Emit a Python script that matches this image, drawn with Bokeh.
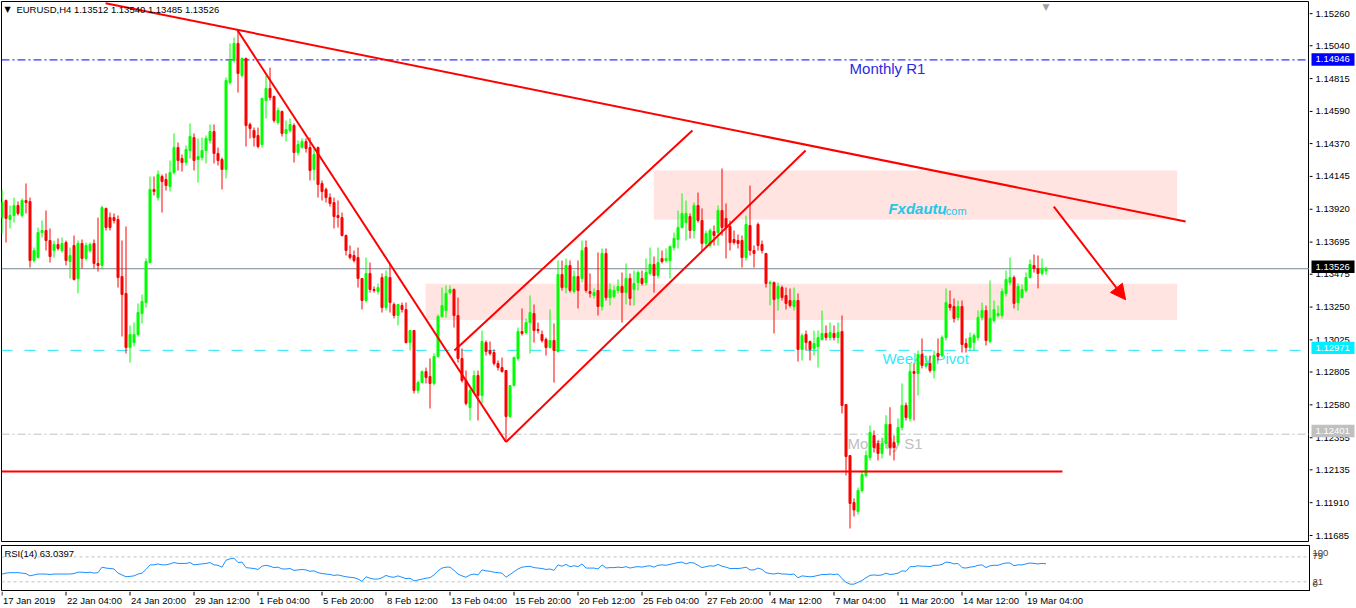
from bokeh.plotting import figure
from bokeh.layouts import column, row
from bokeh.models import (ColumnDataSource, Range1d, FixedTicker, Span, Label,
                          Arrow, NormalHead, CustomJSTickFormatter)
from bokeh.core.properties import value
from bokeh.embed import file_html
from bokeh.resources import INLINE

# ---------------- data (EURUSD H4) ----------------
opens = [1.13874, 1.13990, 1.13861, 1.13888, 1.13956, 1.13888, 1.13990, 1.13983, 1.13582, 1.13602,
         1.13772, 1.13786, 1.13718, 1.13650, 1.13691, 1.13650, 1.13704, 1.13575, 1.13684, 1.13460,
         1.13698, 1.13596, 1.13650, 1.13698, 1.13562, 1.13548, 1.13936, 1.13874, 1.13874, 1.13861,
         1.13473, 1.13358, 1.12990, 1.13024, 1.13079, 1.13222, 1.13296, 1.13568, 1.14065, 1.14010,
         1.14153, 1.14133, 1.14085, 1.14180, 1.14350, 1.14276, 1.14248, 1.14330, 1.14418, 1.14269,
         1.14282, 1.14330, 1.14398, 1.14459, 1.14310, 1.14269, 1.14201, 1.14792, 1.14942, 1.15058,
         1.14840, 1.14956, 1.14507, 1.14466, 1.14432, 1.14371, 1.14670, 1.14752, 1.14697, 1.14520,
         1.14595, 1.14446, 1.14466, 1.14500, 1.14316, 1.14350, 1.14391, 1.14350, 1.14201, 1.14350,
         1.14106, 1.14065, 1.14010, 1.13976, 1.13888, 1.13874, 1.13752, 1.13623, 1.13616, 1.13602,
         1.13460, 1.13310, 1.13494, 1.13385, 1.13371, 1.13466, 1.13262, 1.13466, 1.13283, 1.13208,
         1.13276, 1.13249, 1.13024, 1.13106, 1.12698, 1.12752, 1.12827, 1.12793, 1.12746, 1.12929,
         1.13201, 1.13242, 1.13364, 1.13385, 1.13208, 1.12916, 1.12766, 1.12582, 1.12684, 1.12800,
         1.12664, 1.13024, 1.12970, 1.12956, 1.12882, 1.12854, 1.12834, 1.12521, 1.12732, 1.12916,
         1.13099, 1.13092, 1.13160, 1.13222, 1.13113, 1.13079, 1.13045, 1.12990, 1.13038, 1.12963,
         1.13487, 1.13398, 1.13548, 1.13371, 1.13473, 1.13460, 1.13670, 1.13371, 1.13344, 1.13378,
         1.13269, 1.13630, 1.13330, 1.13337, 1.13378, 1.13405, 1.13364, 1.13460, 1.13385, 1.13432,
         1.13460, 1.13432, 1.13494, 1.13555, 1.13480, 1.13596, 1.13582, 1.13582, 1.13670, 1.13725,
         1.13806, 1.13840, 1.13881, 1.13786, 1.13956, 1.13854, 1.13698, 1.13684, 1.13779, 1.13772,
         1.13922, 1.13868, 1.13813, 1.13725, 1.13718, 1.13718, 1.13602, 1.13820, 1.13650, 1.13827,
         1.13691, 1.13630, 1.13426, 1.13432, 1.13324, 1.13398, 1.13344, 1.13310, 1.13269, 1.13310,
         1.12977, 1.13079, 1.13031, 1.12984, 1.12997, 1.13045, 1.13086, 1.13058, 1.13086, 1.13058,
         1.13099, 1.12603, 1.12256, 1.11936, 1.11875, 1.12018, 1.12120, 1.12242, 1.12392, 1.12338,
         1.12270, 1.12338, 1.12468, 1.12344, 1.12344, 1.12446, 1.12596, 1.12508, 1.12827, 1.12814,
         1.12943, 1.12868, 1.12882, 1.12834, 1.12950, 1.12936, 1.13058, 1.13283, 1.13269, 1.13194,
         1.13269, 1.13018, 1.12990, 1.13024, 1.13058, 1.13194, 1.13242, 1.13031, 1.13174, 1.13208,
         1.13208, 1.13358, 1.13432, 1.13466, 1.13296, 1.13330, 1.13378, 1.13466, 1.13548, 1.13528,
         1.13494, 1.13512]
highs = [1.14065, 1.13997, 1.13956, 1.14010, 1.13983, 1.14004, 1.14106, 1.14010, 1.13670, 1.13806,
         1.13854, 1.13922, 1.13800, 1.13718, 1.13732, 1.13738, 1.13718, 1.13670, 1.13752, 1.13718,
         1.13725, 1.13704, 1.13704, 1.13725, 1.13874, 1.13956, 1.13942, 1.13908, 1.13902, 1.13888,
         1.13718, 1.13813, 1.13140, 1.13160, 1.13290, 1.13351, 1.13596, 1.14153, 1.14153, 1.14194,
         1.14167, 1.14174, 1.14262, 1.14446, 1.14384, 1.14303, 1.14364, 1.14514, 1.14446, 1.14412,
         1.14418, 1.14432, 1.14507, 1.14507, 1.14350, 1.14282, 1.14826, 1.15058, 1.15098, 1.15146,
         1.14962, 1.14962, 1.14520, 1.14486, 1.14486, 1.14690, 1.14840, 1.14894, 1.14704, 1.14622,
         1.14602, 1.14534, 1.14548, 1.14514, 1.14398, 1.14412, 1.14412, 1.14418, 1.14350, 1.14357,
         1.14126, 1.14078, 1.14038, 1.14010, 1.13990, 1.13908, 1.13759, 1.13684, 1.13650, 1.13670,
         1.13460, 1.13602, 1.13568, 1.13405, 1.13426, 1.13494, 1.13514, 1.13562, 1.13296, 1.13283,
         1.13296, 1.13296, 1.13106, 1.13106, 1.12766, 1.12834, 1.12854, 1.12916, 1.12950, 1.13215,
         1.13398, 1.13412, 1.13412, 1.13392, 1.13330, 1.12984, 1.12834, 1.12712, 1.12834, 1.12834,
         1.13106, 1.13038, 1.13031, 1.12977, 1.12902, 1.12922, 1.12834, 1.12732, 1.12929, 1.13126,
         1.13256, 1.13188, 1.13344, 1.13283, 1.13160, 1.13106, 1.13058, 1.13249, 1.13154, 1.13582,
         1.13582, 1.13596, 1.13582, 1.13514, 1.13582, 1.13718, 1.13718, 1.13494, 1.13392, 1.13636,
         1.13664, 1.13664, 1.13426, 1.13412, 1.13453, 1.13500, 1.13562, 1.13494, 1.13514, 1.13514,
         1.13514, 1.13596, 1.13670, 1.13609, 1.13670, 1.13650, 1.13664, 1.13684, 1.13772, 1.13922,
         1.14038, 1.13990, 1.13902, 1.13976, 1.14044, 1.13936, 1.13786, 1.13800, 1.13820, 1.13956,
         1.14208, 1.13970, 1.13854, 1.13786, 1.13759, 1.13752, 1.13888, 1.14092, 1.13684, 1.13840,
         1.13718, 1.13630, 1.13446, 1.13439, 1.13432, 1.13412, 1.13398, 1.13392, 1.13398, 1.13358,
         1.13086, 1.13106, 1.13038, 1.13106, 1.13106, 1.13242, 1.13140, 1.13160, 1.13140, 1.13160,
         1.13208, 1.12603, 1.12256, 1.11964, 1.12038, 1.12154, 1.12290, 1.12460, 1.12426, 1.12358,
         1.12378, 1.12530, 1.12584, 1.12392, 1.12508, 1.12746, 1.12616, 1.12882, 1.12882, 1.12970,
         1.13052, 1.12936, 1.12936, 1.12970, 1.13052, 1.13072, 1.13392, 1.13378, 1.13324, 1.13310,
         1.13310, 1.13052, 1.13092, 1.13086, 1.13242, 1.13296, 1.13276, 1.13446, 1.13310, 1.13276,
         1.13392, 1.13514, 1.13602, 1.13480, 1.13426, 1.13419, 1.13500, 1.13589, 1.13623, 1.13616,
         1.13596, 1.13540]
lows = [1.13766, 1.13704, 1.13800, 1.13840, 1.13888, 1.13874, 1.13902, 1.13534, 1.13568, 1.13596,
        1.13738, 1.13650, 1.13568, 1.13602, 1.13650, 1.13636, 1.13548, 1.13460, 1.13446, 1.13358,
        1.13528, 1.13582, 1.13636, 1.13528, 1.13507, 1.13521, 1.13786, 1.13786, 1.13834, 1.13398,
        1.13065, 1.12950, 1.12888, 1.12997, 1.13065, 1.13154, 1.13262, 1.13562, 1.14024, 1.13990,
        1.13908, 1.14058, 1.14051, 1.14167, 1.14194, 1.14187, 1.14228, 1.14276, 1.14194, 1.14112,
        1.14262, 1.14242, 1.14378, 1.14242, 1.14228, 1.14065, 1.14140, 1.14779, 1.14928, 1.14724,
        1.14826, 1.14357, 1.14412, 1.14357, 1.14344, 1.14350, 1.14548, 1.14670, 1.14520, 1.14507,
        1.14425, 1.14391, 1.14452, 1.14248, 1.14296, 1.14344, 1.14316, 1.14126, 1.14126, 1.14010,
        1.13990, 1.13976, 1.13949, 1.13800, 1.13806, 1.13745, 1.13616, 1.13589, 1.13568, 1.13398,
        1.13249, 1.13296, 1.13364, 1.13364, 1.13351, 1.13228, 1.13242, 1.13228, 1.13188, 1.13140,
        1.13228, 1.13018, 1.12970, 1.12678, 1.12678, 1.12746, 1.12746, 1.12576, 1.12732, 1.12922,
        1.13194, 1.13194, 1.13351, 1.13126, 1.12888, 1.12752, 1.12596, 1.12494, 1.12678, 1.12494,
        1.12610, 1.12936, 1.12936, 1.12868, 1.12834, 1.12820, 1.12358, 1.12514, 1.12725, 1.12902,
        1.13072, 1.13079, 1.12950, 1.13024, 1.13086, 1.13024, 1.12936, 1.12984, 1.12752, 1.12956,
        1.13378, 1.13358, 1.13364, 1.13358, 1.13256, 1.13432, 1.13364, 1.13330, 1.13324, 1.13208,
        1.13242, 1.13310, 1.13276, 1.13324, 1.13358, 1.13160, 1.13283, 1.13276, 1.13276, 1.13378,
        1.13412, 1.13412, 1.13480, 1.13364, 1.13460, 1.13562, 1.13568, 1.13460, 1.13650, 1.13664,
        1.13800, 1.13718, 1.13732, 1.13732, 1.13840, 1.13650, 1.13670, 1.13670, 1.13684, 1.13684,
        1.13752, 1.13596, 1.13650, 1.13691, 1.13664, 1.13534, 1.13582, 1.13616, 1.13534, 1.13650,
        1.13630, 1.13398, 1.13276, 1.13086, 1.13242, 1.13310, 1.13249, 1.13262, 1.13242, 1.12895,
        1.12902, 1.12970, 1.12902, 1.12936, 1.12854, 1.13038, 1.13038, 1.13038, 1.13038, 1.13018,
        1.12542, 1.12120, 1.11760, 1.11841, 1.11855, 1.12004, 1.12106, 1.12222, 1.12276, 1.12222,
        1.12236, 1.12304, 1.12256, 1.12222, 1.12324, 1.12426, 1.12494, 1.12487, 1.12494, 1.12664,
        1.12848, 1.12848, 1.12820, 1.12780, 1.12902, 1.12922, 1.13038, 1.13242, 1.13160, 1.13174,
        1.12956, 1.12956, 1.12970, 1.12970, 1.13038, 1.13174, 1.13004, 1.13018, 1.13160, 1.13194,
        1.13188, 1.13337, 1.13412, 1.13256, 1.13242, 1.13324, 1.13364, 1.13460, 1.13500, 1.13392,
        1.13480, 1.13485]
closes = [1.13976, 1.13868, 1.13888, 1.13956, 1.13902, 1.13990, 1.13976, 1.13582, 1.13650, 1.13772,
          1.13786, 1.13718, 1.13609, 1.13691, 1.13664, 1.13698, 1.13582, 1.13616, 1.13453, 1.13698,
          1.13596, 1.13684, 1.13691, 1.13562, 1.13548, 1.13942, 1.13806, 1.13806, 1.13854, 1.13466,
          1.13351, 1.12990, 1.13079, 1.13079, 1.13228, 1.13303, 1.13575, 1.14065, 1.14051, 1.14167,
          1.14119, 1.14092, 1.14180, 1.14350, 1.14262, 1.14248, 1.14337, 1.14425, 1.14262, 1.14289,
          1.14330, 1.14412, 1.14459, 1.14310, 1.14262, 1.14201, 1.14806, 1.14942, 1.15058, 1.14854,
          1.14956, 1.14500, 1.14480, 1.14418, 1.14357, 1.14684, 1.14752, 1.14690, 1.14534, 1.14602,
          1.14446, 1.14473, 1.14507, 1.14316, 1.14371, 1.14391, 1.14344, 1.14194, 1.14303, 1.14099,
          1.14051, 1.14010, 1.13970, 1.13881, 1.13874, 1.13752, 1.13650, 1.13602, 1.13582, 1.13460,
          1.13310, 1.13494, 1.13385, 1.13378, 1.13398, 1.13262, 1.13473, 1.13296, 1.13208, 1.13283,
          1.13249, 1.13024, 1.13106, 1.12698, 1.12752, 1.12827, 1.12786, 1.12746, 1.12929, 1.13201,
          1.13276, 1.13358, 1.13385, 1.13208, 1.12916, 1.12766, 1.12610, 1.12698, 1.12800, 1.12664,
          1.13031, 1.12963, 1.12950, 1.12882, 1.12854, 1.12827, 1.12521, 1.12732, 1.12922, 1.13099,
          1.13086, 1.13160, 1.13228, 1.13106, 1.13106, 1.13038, 1.12990, 1.13038, 1.12970, 1.13487,
          1.13398, 1.13548, 1.13378, 1.13473, 1.13378, 1.13650, 1.13378, 1.13358, 1.13364, 1.13269,
          1.13630, 1.13330, 1.13385, 1.13378, 1.13405, 1.13364, 1.13460, 1.13324, 1.13426, 1.13500,
          1.13426, 1.13500, 1.13555, 1.13480, 1.13568, 1.13575, 1.13596, 1.13677, 1.13732, 1.13806,
          1.13902, 1.13902, 1.13786, 1.13956, 1.13854, 1.13698, 1.13766, 1.13786, 1.13752, 1.13922,
          1.13806, 1.13806, 1.13704, 1.13704, 1.13698, 1.13602, 1.13827, 1.13650, 1.13630, 1.13684,
          1.13650, 1.13426, 1.13432, 1.13317, 1.13405, 1.13330, 1.13290, 1.13276, 1.13310, 1.12977,
          1.13072, 1.13024, 1.12977, 1.13018, 1.13058, 1.13086, 1.13058, 1.13092, 1.13058, 1.13092,
          1.12596, 1.12249, 1.11930, 1.11885, 1.12018, 1.12127, 1.12256, 1.12412, 1.12310, 1.12270,
          1.12338, 1.12468, 1.12310, 1.12310, 1.12446, 1.12596, 1.12514, 1.12827, 1.12814, 1.12943,
          1.12868, 1.12882, 1.12834, 1.12936, 1.12929, 1.13058, 1.13296, 1.13262, 1.13188, 1.13269,
          1.13011, 1.12990, 1.13058, 1.13072, 1.13194, 1.13242, 1.13038, 1.13188, 1.13249, 1.13222,
          1.13371, 1.13453, 1.13466, 1.13290, 1.13405, 1.13385, 1.13466, 1.13555, 1.13528, 1.13494,
          1.13528, 1.13526]
rsi = [39.1, 41.2, 42.3, 42.3, 42.3, 41.2, 40.2, 34.8, 37.0, 39.1,
       39.1, 39.1, 38.0, 39.1, 39.1, 39.1, 39.1, 39.1, 40.2, 43.4,
       43.4, 42.3, 43.4, 41.2, 42.3, 55.2, 53.0, 52.0, 50.9, 41.2,
       37.0, 32.7, 33.7, 34.8, 39.1, 41.2, 49.8, 60.5, 60.5, 62.7,
       60.5, 60.5, 62.7, 65.9, 63.8, 63.8, 63.8, 65.9, 60.5, 61.6,
       62.7, 63.8, 65.9, 60.5, 59.5, 55.2, 71.3, 74.5, 76.1, 65.9,
       67.0, 54.1, 53.0, 52.0, 49.8, 57.3, 59.5, 57.3, 54.1, 55.2,
       50.9, 50.9, 52.0, 47.7, 48.7, 49.8, 48.7, 45.5, 46.6, 42.3,
       40.2, 39.1, 38.0, 35.9, 37.0, 34.8, 32.7, 31.6, 30.5, 27.3,
       22.0, 32.7, 29.4, 27.3, 27.3, 30.5, 35.9, 32.7, 31.6, 34.8,
       31.6, 28.4, 29.4, 23.0, 25.2, 27.3, 29.4, 30.5, 37.0, 46.6,
       53.0, 55.2, 55.2, 47.7, 39.1, 34.8, 31.6, 37.0, 39.1, 37.0,
       48.7, 46.6, 45.5, 43.4, 42.3, 41.2, 31.6, 38.0, 44.5, 50.9,
       55.2, 56.3, 57.3, 54.1, 53.0, 52.0, 49.8, 50.9, 47.7, 60.5,
       57.3, 61.6, 56.3, 58.4, 56.3, 62.7, 53.0, 53.0, 53.0, 50.9,
       60.5, 53.0, 54.1, 54.1, 55.2, 54.1, 56.3, 53.0, 55.2, 56.3,
       55.2, 57.3, 58.4, 55.2, 59.5, 60.5, 59.5, 61.6, 63.8, 65.9,
       67.0, 62.7, 65.9, 64.8, 59.5, 54.1, 56.3, 58.4, 57.3, 61.6,
       57.3, 55.2, 52.0, 52.0, 52.0, 53.0, 55.2, 48.7, 48.7, 53.0,
       49.8, 42.3, 40.2, 39.1, 41.2, 39.1, 39.1, 38.0, 39.1, 30.5,
       34.8, 33.7, 32.7, 33.7, 35.9, 38.0, 38.0, 39.1, 38.0, 39.1,
       28.4, 19.8, 15.5, 15.5, 19.8, 24.1, 30.5, 35.9, 37.0, 35.9,
       37.0, 41.2, 38.0, 39.1, 41.2, 46.6, 45.5, 56.3, 56.3, 58.4,
       57.3, 57.3, 56.3, 59.5, 59.5, 61.6, 67.0, 65.9, 62.7, 63.8,
       54.1, 53.0, 55.2, 56.3, 59.5, 60.5, 54.1, 58.4, 59.5, 59.5,
       62.7, 64.8, 64.8, 58.4, 60.5, 60.5, 62.7, 64.8, 63.8, 62.7,
       63.8, 63.0397]

price_ticks = [1.15260, 1.15040, 1.14815, 1.14590, 1.14370, 1.14145, 1.13920, 1.13695, 1.13475,
               1.13250, 1.13025, 1.12805, 1.12580, 1.12355, 1.12135, 1.11910, 1.11685]
time_tick_bars = [0, 16, 32, 48, 64, 80, 96, 112, 128, 144, 160, 176, 192, 208, 224, 240, 256]
time_labels = ["17 Jan 2019", "22 Jan 04:00", "24 Jan 20:00", "29 Jan 12:00", "1 Feb 04:00",
               "5 Feb 20:00", "8 Feb 12:00", "13 Feb 04:00", "15 Feb 20:00", "20 Feb 12:00",
               "25 Feb 04:00", "27 Feb 20:00", "4 Mar 12:00", "7 Mar 04:00", "11 Mar 20:00",
               "14 Mar 12:00", "19 Mar 04:00"]
rsi_levels = [79, 21]
rsi_tick_pos = [88, 82, 21, 15]
rsi_tick_text = ["100", "79", "21", "0"]

monthly_r1 = 1.14946
weekly_pivot = 1.12971
monthly_s1 = 1.12401
support_level = 1.12147

# trend lines: (bar0, price0, bar1, price1)
trend_x0 = [25.9, 58.8, 113.1, 126.0]
trend_y0 = [1.15332, 1.15151, 1.12970, 1.12348]
trend_x1 = [295.9, 126.0, 172.6, 200.9]
trend_y1 = [1.13847, 1.12348, 1.14466, 1.14330]
# pink zones: left bar, right bar, top price, bottom price
zone_left = [162.95, 105.9]
zone_right = [293.8, 293.8]
zone_top = [1.14194, 1.13424]
zone_bottom = [1.13861, 1.13177]

# ---------------- layout constants ----------------
FONT = "Liberation Sans"
SMALL = "9.5px"
W_MAIN = 1309          # main chart incl. 1px left border
W_SCALE = 47           # price scale column
H_MAIN = 545
H_RSI = 46
H_TIME = 17
XS = -0.125
XE = XS + (W_MAIN - 1) / 4.0
YMIN, YMAX = 1.116712, 1.153432
FRAME_H = H_MAIN - 1 - 4
unit = (YMAX - YMIN) / FRAME_H

n = len(closes)
idx = list(range(n))
up = [c >= o for o, c in zip(opens, closes)]
src = ColumnDataSource(dict(
    x=idx, o=opens, h=highs, l=lows, c=closes,
    top=[max(o, c) for o, c in zip(opens, closes)],
    bot=[min(o, c) for o, c in zip(opens, closes)],
    col=["#00ff00" if u else "#ff0000" for u in up]))

xr = Range1d(XS, XE)
yr = Range1d(YMIN, YMAX)

# ---------------- main chart ----------------
p = figure(width=W_MAIN, height=H_MAIN, x_range=xr, y_range=yr,
           output_backend="svg", toolbar_location=None, x_axis_location=None,
           y_axis_location=None, min_border_left=1, min_border_right=0,
           min_border_top=1, min_border_bottom=4)
p.grid.visible = False
p.outline_line_color = "black"
p.outline_line_width = 1
p.background_fill_color = "white"
p.border_fill_color = "white"

p.quad(left=zone_left, right=zone_right, top=zone_top, bottom=zone_bottom,
       fill_color="#ffe4e1", line_color=None, level="underlay")

for loc, colr, dash in [(monthly_r1, "#0000ff", "8 3 2 3"),
                        (weekly_pivot, "#22e6f2", "11 12"),
                        (monthly_s1, "#c0c0c0", "8 3 2 3"),
                        (closes[-1], "#7a8591", "solid")]:
    p.add_layout(Span(location=loc, dimension="width", line_color=colr,
                      line_dash=dash, line_width=1, level="underlay"))

p.add_layout(Label(x=211.9, y=1.14888, text="Monthly R1", text_color="#2a2ae0",
                   text_font=FONT, text_font_size="15px", text_baseline="middle"))
p.add_layout(Label(x=220.1, y=1.12916, text="Weekly Pivot", text_color="#33eaf6",
                   text_font=FONT, text_font_size="15px", text_baseline="middle",
                   level="underlay"))
p.add_layout(Label(x=211.4, y=1.12338, text="Monthly S1", text_color="#c0c0c0",
                   text_font=FONT, text_font_size="15px", text_baseline="middle",
                   level="underlay"))

p.segment(x0="x", y0="l", x1="x", y1="h", line_color="col", line_width=1, source=src)
p.vbar(x="x", width=0.5, top="top", bottom="bot", fill_color="col", line_color="col",
       line_width=1, source=src)

p.segment(x0=[XS], y0=[support_level], x1=[265.1], y1=[support_level],
          line_color="#ff0000", line_width=2)
p.segment(x0=trend_x0, y0=trend_y0, x1=trend_x1, y1=trend_y1,
          line_color="#ff0000", line_width=2)
p.add_layout(Arrow(end=NormalHead(size=15, fill_color="#ff0000", line_color="#ff0000"),
                   x_start=262.95, y_start=1.13949, x_end=280.9, y_end=1.13315,
                   line_color="#ff0000", line_width=2))

p.add_layout(Label(x=221.6, y=1.13936, text="Fxdautu", text_color="#25c6e6",
                   text_font=FONT, text_font_size="15px", text_font_style="bold italic",
                   text_baseline="middle"))
p.add_layout(Label(x=235.2, y=1.13922, text=".com", text_color="#25c6e6",
                   text_font=FONT, text_font_size="11px", text_baseline="middle"))

p.add_layout(Label(x=0.6, y=1.15289, text="\u25bc", text_color="black",
                   text_font="DejaVu Sans", text_font_size="8px", text_baseline="middle"))
p.add_layout(Label(x=3.6, y=1.15289,
                   text="EURUSD,H4  %.5f %.5f %.5f %.5f" % (opens[-1], highs[-1], lows[-1], closes[-1]),
                   text_color="black", text_font=FONT, text_font_size="9.5px",
                   text_baseline="middle"))
p.add_layout(Label(x=n - 1, y=YMAX, text="\u25bc", text_color="#a0a0a0",
                   text_font="DejaVu Sans", text_font_size="9px", text_baseline="top",
                   text_align="center"))

# ---------------- price scale column ----------------
s = figure(width=W_SCALE, height=H_MAIN, x_range=Range1d(0, W_SCALE),
           y_range=Range1d(YMIN - 4 * unit, YMAX), output_backend="svg",
           toolbar_location=None, x_axis_location=None, y_axis_location=None,
           min_border_left=0, min_border_right=0, min_border_top=1, min_border_bottom=0)
s.grid.visible = False
s.outline_line_color = None
s.background_fill_color = "white"
s.border_fill_color = "white"
s.segment(x0=0, x1=3, y0=price_ticks, y1=price_ticks, line_color="black", line_width=1)
s.text(x=6, y=price_ticks, text=["%.5f" % t for t in price_ticks], text_color="black",
       text_font=value(FONT), text_font_size=value(SMALL), text_baseline="middle")
box_levels = [monthly_r1, closes[-1], weekly_pivot, monthly_s1]
box_colors = ["#0000ff", "#000000", "#00eeff", "#c0c0c0"]
s.quad(left=2, right=45, top=[v + 6.2 * unit for v in box_levels],
       bottom=[v - 6.2 * unit for v in box_levels], fill_color=box_colors, line_color=None)
s.text(x=6, y=box_levels, text=["%.5f" % v for v in box_levels], text_color="white",
       text_font=value(FONT), text_font_size=value(SMALL), text_baseline="middle")

# ---------------- RSI panel ----------------
r = figure(width=W_MAIN + W_SCALE, height=H_RSI, x_range=xr, y_range=Range1d(-1.6, 105.6),
           output_backend="svg", toolbar_location=None, x_axis_location=None,
           y_axis_location="right", min_border_left=1, min_border_right=W_SCALE,
           min_border_top=0, min_border_bottom=0)
r.grid.visible = False
r.outline_line_color = "black"
r.background_fill_color = "white"
r.border_fill_color = "white"
ry = r.yaxis[0]
ry.ticker = FixedTicker(ticks=rsi_tick_pos)
ry.formatter = CustomJSTickFormatter(args=dict(t=rsi_tick_pos, s=rsi_tick_text),
                                     code="const i = t.indexOf(tick); return i >= 0 ? s[i] : '';")
ry.major_tick_out = 0
ry.major_tick_in = 0
ry.minor_tick_out = 0
ry.minor_tick_in = 0
ry.axis_line_color = "black"
ry.major_label_text_font = FONT
ry.major_label_text_font_size = SMALL
ry.major_label_standoff = 3

for lv in rsi_levels:
    r.add_layout(Span(location=lv, dimension="width", line_color="#c0c0c0",
                      line_dash="3 3", line_width=1, level="underlay"))
r.line(x=idx, y=rsi, line_color="#1e90ff", line_width=1)
r.add_layout(Label(x=0.6, y=86.9, text="RSI(14) %.4f" % rsi[-1], text_color="black",
                   text_font=FONT, text_font_size=SMALL, text_baseline="middle"))

# ---------------- time scale ----------------
t = figure(width=W_MAIN + W_SCALE, height=H_TIME, x_range=xr, y_range=Range1d(0, H_TIME),
           output_backend="svg", toolbar_location=None, x_axis_location=None,
           y_axis_location=None, min_border_left=1, min_border_right=W_SCALE,
           min_border_top=0, min_border_bottom=0)
t.grid.visible = False
t.outline_line_color = None
t.background_fill_color = "white"
t.border_fill_color = "white"
t.segment(x0=time_tick_bars, x1=time_tick_bars, y0=H_TIME, y1=H_TIME - 4,
          line_color="black", line_width=1)
t.text(x=time_tick_bars, y=H_TIME / 2 - 0.5, text=time_labels, x_offset=1, text_color="black",
       text_font=value(FONT), text_font_size=value(SMALL), text_baseline="middle",
       text_align="left")

layout = column(row(p, s, spacing=0), r, t, spacing=0)
open("out.html", "w").write(file_html(layout, INLINE))
